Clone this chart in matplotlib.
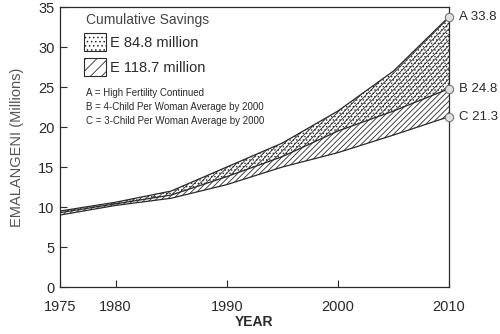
import numpy as np
from matplotlib import pyplot as plt
from matplotlib.patches import Rectangle

# projected values, millions of emalangeni
years = [1975, 1980, 1985, 1990, 1995, 2000, 2005, 2010]
high_fert = [9.5, 10.6, 12.0, 15.0, 18.0, 22.0, 27.0, 33.8]
four_child = [9.3, 10.4, 11.5, 13.8, 16.3, 19.5, 22.0, 24.8]
three_child = [9.0, 10.2, 11.1, 12.8, 15.0, 16.8, 19.0, 21.3]
end_labels = ["A", "B", "C"]

x_ticks = [1975, 1980, 1990, 2000, 2010]
y_ticks = [0, 5, 10, 15, 20, 25, 30, 35]

ink = "#2a2a2a"
plt.rcParams['font.family'] = ['Liberation Sans', 'DejaVu Sans']
plt.rcParams['hatch.linewidth'] = 0.6
plt.rcParams['hatch.color'] = ink

fig = plt.figure(figsize=(5, 3.34), dpi=100)
ax = fig.add_axes([0.12, 0.1407, 0.778, 0.838])

# hatched band from C up to A, dots laid over it from B to A
ax.fill_between(years, three_child, high_fert, facecolor="white",
                edgecolor=ink, hatch="//////", linewidth=0)
ax.fill_between(years, four_child, high_fert, facecolor="none",
                edgecolor=ink, hatch=".....", linewidth=0)

series = [high_fert, four_child, three_child]
for lab, vals in zip(end_labels, series):
    ax.plot(years, vals, color=ink, lw=0.9)
    ax.plot(years[-1], vals[-1], 'o', ms=6, mfc="#e0e0e0", mec="#777777",
            mew=0.8, clip_on=False, zorder=5)
    ax.annotate(f"{lab} {vals[-1]:.1f}", (years[-1], vals[-1]),
                xytext=(7, 0), textcoords="offset points", va="center",
                ha="left", fontsize=9.5, color=ink, annotation_clip=False)

# legend drawn by hand
ax.text(0.066, 0.954, "Cumulative Savings", transform=ax.transAxes,
        fontsize=10, color="#444444", va="center")
ax.add_patch(Rectangle((0.062, 0.843), 0.057, 0.064, transform=ax.transAxes,
                       facecolor="white", edgecolor=ink, hatch="....", lw=0.8))
ax.add_patch(Rectangle((0.062, 0.754), 0.057, 0.064, transform=ax.transAxes,
                       facecolor="white", edgecolor=ink, hatch="///", lw=0.8))
ax.text(0.129, 0.871, "E 84.8 million", transform=ax.transAxes,
        fontsize=10.5, color=ink, va="center")
ax.text(0.129, 0.782, "E 118.7 million", transform=ax.transAxes,
        fontsize=10.5, color=ink, va="center")
notes = ["A = High Fertility Continued",
         "B = 4-Child Per Woman Average by 2000",
         "C = 3-Child Per Woman Average by 2000"]
for i, note in enumerate(notes):
    ax.text(0.066, 0.693 - i * 0.05, note, transform=ax.transAxes,
            fontsize=7, color=ink, va="center")

ax.set_xlim(1975, 2010)
ax.set_ylim(0, 35)
ax.set_xticks(x_ticks)
ax.set_yticks(y_ticks)
ax.tick_params(direction="in", length=5, width=0.8, colors=ink,
               labelsize=10.5)
ax.tick_params(axis="x", pad=9)
ax.tick_params(axis="y", pad=4)
for sp in ax.spines.values():
    sp.set_color(ink)
    sp.set_linewidth(0.9)

ax.set_xlabel("YEAR", fontsize=10, color=ink, fontweight="bold")
ax.xaxis.set_label_coords(0.5, -0.1)
ax.set_ylabel("EMALANGENI (Millions)", fontsize=10.5, color="#555555",
              labelpad=10)

fig.savefig("out.png", dpi=100)
